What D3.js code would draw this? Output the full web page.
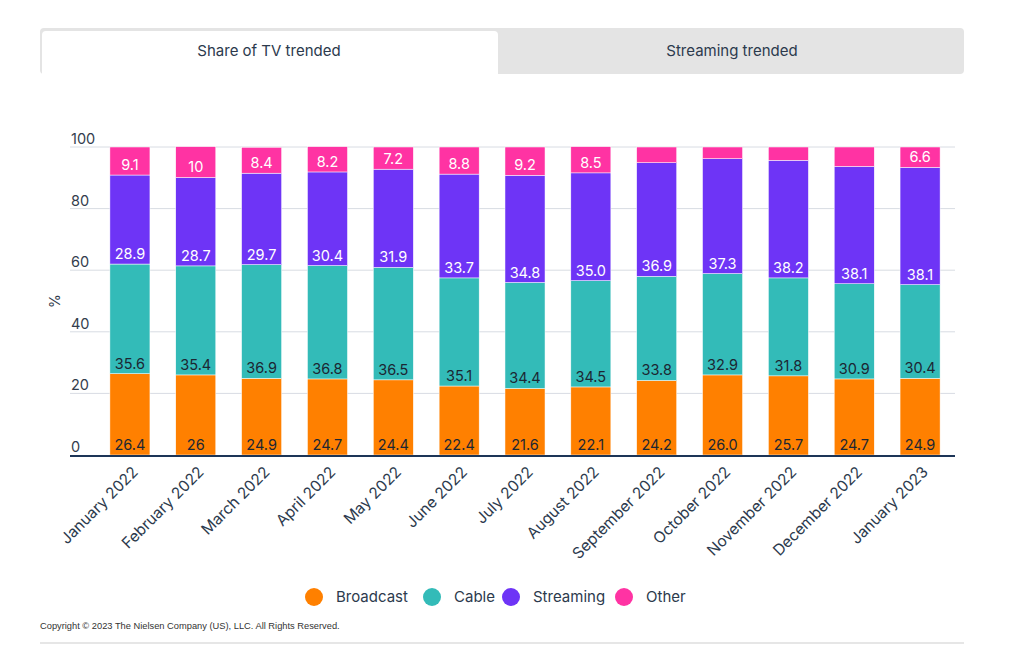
<!DOCTYPE html>
<html>
<head>
<meta charset="utf-8">
<script src="https://cdn.jsdelivr.net/npm/d3@7"></script>
<style>
  html, body { margin: 0; padding: 0; background: #ffffff; }
  svg { display: block; }
</style>
</head>
<body>
<svg id="chart" width="1024" height="650"></svg>
<script>
const months = ["January 2022","February 2022","March 2022","April 2022","May 2022","June 2022","July 2022","August 2022","September 2022","October 2022","November 2022","December 2022","January 2023"];
const broadcast = [26.4, 26, 24.9, 24.7, 24.4, 22.4, 21.6, 22.1, 24.2, 26.0, 25.7, 24.7, 24.9];
const cable     = [35.6, 35.4, 36.9, 36.8, 36.5, 35.1, 34.4, 34.5, 33.8, 32.9, 31.8, 30.9, 30.4];
const streaming = [28.9, 28.7, 29.7, 30.4, 31.9, 33.7, 34.8, 35.0, 36.9, 37.3, 38.2, 38.1, 38.1];
const other     = [9.1, 10, 8.4, 8.2, 7.2, 8.8, 9.2, 8.5, 5.1, 3.8, 4.3, 6.3, 6.6];
// whether a month's labels are shown with a fixed one decimal
const fixedDecimals = [false,false,false,false,false,false,false,true,true,true,true,true,true];
// which "Other" values carry a label
const otherLabelShown = [true,true,true,true,true,true,true,true,false,false,false,false,true];
const seriesNames = ["Broadcast","Cable","Streaming","Other"];
const yTicks = [0, 20, 40, 60, 80, 100];
const tabs = ["Share of TV trended", "Streaming trended"];
const copyright = "Copyright \u00A9 2023 The Nielsen Company (US), LLC. All Rights Reserved.";

const colors = ["#FF8000", "#33BBB8", "#6E34F6", "#FF33A3"];
const labelColors = ["#1c2733", "#1c2733", "#ffffff", "#ffffff"];
const font = "Inter, 'Noto Sans', sans-serif";

const svg = d3.select("#chart");

// ---- Tabs ----
const tabG = svg.append("g");
tabG.append("rect").attr("x", 40).attr("y", 28).attr("width", 924).attr("height", 46)
  .attr("rx", 4).attr("fill", "#e4e4e4");
tabG.append("path")
  .attr("d", "M42,74 L42,35 Q42,31 46,31 L494,31 Q498,31 498,35 L498,74 Z")
  .attr("fill", "#ffffff");
const tabX = d3.scaleBand().domain(tabs).range([42, 962]);
tabG.selectAll("text.tab").data(tabs).join("text")
  .attr("class", "tab")
  .attr("x", d => tabX(d) + tabX.bandwidth() / 2 - (d === tabs[0] ? 3 : 0))
  .attr("y", 56)
  .attr("text-anchor", "middle")
  .attr("font-family", font)
  .attr("font-size", 15)
  .attr("fill", "#2c3a4d")
  .text(d => d);

// ---- Scales ----
const y = d3.scaleLinear().domain([0, 100]).range([455, 147]);
const x = d3.scaleBand().domain(months).range([97, 953]).paddingInner(0.392).paddingOuter(0.196);

// grid
const grid = svg.append("g");
grid.selectAll("line").data(yTicks.filter(t => t > 0)).join("line")
  .attr("x1", 70).attr("x2", 955)
  .attr("y1", d => y(d)).attr("y2", d => y(d))
  .attr("stroke", "#d8dce3").attr("stroke-width", 1);

// y tick labels
svg.append("g").selectAll("text").data(yTicks).join("text")
  .attr("x", 71).attr("y", d => y(d) - 3)
  .attr("font-family", font).attr("font-size", 14.5)
  .attr("fill", "#333d4d")
  .text(d => d);

// y axis title
svg.append("text")
  .attr("transform", `translate(60,${(y(0) + y(100)) / 2}) rotate(-90)`)
  .attr("text-anchor", "middle")
  .attr("font-family", font).attr("font-size", 14)
  .attr("fill", "#333d4d")
  .text("%");

// ---- stacked bars ----
const rows = months.map((m, i) => ({
  month: m, Broadcast: broadcast[i], Cable: cable[i], Streaming: streaming[i], Other: other[i], idx: i
}));
const stack = d3.stack().keys(seriesNames)(rows);

const fmt = (v, i) => fixedDecimals[i] ? v.toFixed(1) : String(v);

stack.forEach((layer, k) => {
  const g = svg.append("g");
  g.selectAll("rect").data(layer).join("rect")
    .attr("x", d => x(d.data.month))
    .attr("width", x.bandwidth())
    .attr("y", d => y(d[1]))
    .attr("height", d => y(d[0]) - y(d[1]))
    .attr("fill", colors[k])
    .attr("stroke", "#ffffff").attr("stroke-width", 0.5);
  g.selectAll("text").data(layer.filter(d => k !== 3 || otherLabelShown[d.data.idx])).join("text")
    .attr("x", d => x(d.data.month) + x.bandwidth() / 2)
    .attr("y", d => y(d[0]) - 5)
    .attr("text-anchor", "middle")
    .attr("font-family", font).attr("font-size", 14.5)
    .attr("fill", labelColors[k])
    .text(d => fmt(d.data[seriesNames[k]], d.data.idx));
});

// x axis line
svg.append("line")
  .attr("x1", 70).attr("x2", 955).attr("y1", y(0) + 1).attr("y2", y(0) + 1)
  .attr("stroke", "#1d3557").attr("stroke-width", 2);

// x labels
svg.append("g").selectAll("text").data(months).join("text")
  .attr("transform", d => `translate(${x(d) + x.bandwidth() / 2 + 9},${y(0) + 18}) rotate(-45)`)
  .attr("text-anchor", "end")
  .attr("font-family", font).attr("font-size", 15.5)
  .attr("fill", "#2c3a4d")
  .text(d => d);

// ---- legend ----
const legendX = [314, 432, 511, 624];
const leg = svg.append("g");
seriesNames.forEach((s, k) => {
  leg.append("circle").attr("cx", legendX[k]).attr("cy", 597).attr("r", 9).attr("fill", colors[k]);
  leg.append("text").attr("x", legendX[k] + 22).attr("y", 602)
    .attr("font-family", font).attr("font-size", 15)
    .attr("fill", "#2c3a4d").text(s);
});

// copyright
svg.append("text").attr("x", 40).attr("y", 629)
  .attr("font-family", "'Liberation Sans', Arial, sans-serif").attr("font-size", 9.3)
  .attr("fill", "#333").text(copyright);

svg.append("line").attr("x1", 40).attr("x2", 964).attr("y1", 643).attr("y2", 643)
  .attr("stroke", "#e6e6e6").attr("stroke-width", 2);
</script>
</body>
</html>
